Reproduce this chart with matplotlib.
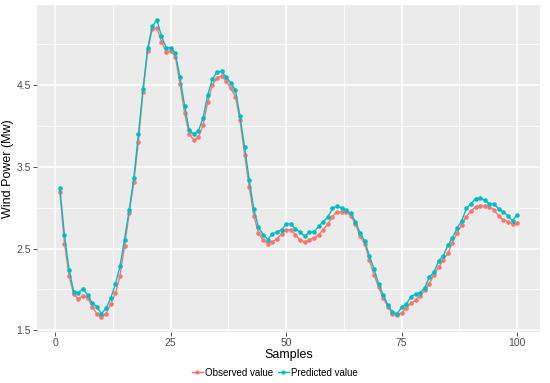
import numpy as np
import matplotlib
matplotlib.use("Agg")
import matplotlib.pyplot as plt
from matplotlib.lines import Line2D

plt.rcParams['font.family'] = ['Liberation Sans', 'DejaVu Sans']

# Data
samples = np.arange(1, 101)

observed = [3.19, 2.56, 2.16, 1.94, 1.88, 1.92, 1.90, 1.79, 1.70, 1.66,
            1.70, 1.82, 1.95, 2.16, 2.53, 2.93, 3.31, 3.81, 4.42, 4.92,
            5.19, 5.20, 5.03, 4.91, 4.92, 4.85, 4.52, 4.16, 3.90, 3.83,
            3.86, 4.01, 4.29, 4.50, 4.59, 4.61, 4.55, 4.46, 4.36, 4.07,
            3.65, 3.25, 2.90, 2.69, 2.60, 2.56, 2.58, 2.62, 2.68, 2.73,
            2.73, 2.67, 2.60, 2.58, 2.61, 2.63, 2.67, 2.73, 2.80, 2.89,
            2.95, 2.95, 2.95, 2.90, 2.80, 2.65, 2.56, 2.36, 2.18, 2.03,
            1.89, 1.79, 1.70, 1.68, 1.71, 1.77, 1.83, 1.87, 1.92, 1.99,
            2.07, 2.18, 2.27, 2.36, 2.44, 2.57, 2.69, 2.79, 2.89, 2.96,
            3.01, 3.02, 3.02, 3.01, 2.97, 2.90, 2.85, 2.83, 2.80, 2.81]

predicted = [3.24, 2.66, 2.24, 1.97, 1.96, 2.01, 1.93, 1.83, 1.79, 1.70,
             1.77, 1.89, 2.06, 2.28, 2.61, 2.97, 3.36, 3.90, 4.45, 4.95,
             5.22, 5.30, 5.10, 4.96, 4.96, 4.89, 4.60, 4.25, 3.95, 3.90,
             3.94, 4.10, 4.38, 4.57, 4.66, 4.67, 4.60, 4.53, 4.44, 4.12,
             3.74, 3.34, 2.98, 2.76, 2.67, 2.61, 2.68, 2.70, 2.73, 2.80,
             2.80, 2.74, 2.70, 2.65, 2.70, 2.70, 2.77, 2.83, 2.88, 2.99,
             3.02, 3.00, 2.97, 2.93, 2.83, 2.69, 2.59, 2.41, 2.25, 2.07,
             1.93, 1.81, 1.72, 1.70, 1.78, 1.82, 1.91, 1.94, 1.96, 2.02,
             2.15, 2.21, 2.35, 2.41, 2.54, 2.63, 2.75, 2.84, 2.99, 3.05,
             3.11, 3.12, 3.09, 3.05, 3.05, 2.98, 2.95, 2.90, 2.84, 2.91]

series_names = ['Observed value', 'Predicted value']
colors = ['#F8766D', '#00BFC4']

x_ticks = [0, 25, 50, 75, 100]
y_ticks = [1.5, 2.5, 3.5, 4.5]
y_minor = [2.0, 3.0, 4.0, 5.0]

fig = plt.figure(figsize=(5.5, 3.83), dpi=100)
ax = fig.add_axes([0.0673, 0.1332, 0.9145, 0.8538])
ax.set_facecolor('#EBEBEB')

for vals, name, c in zip([observed, predicted], series_names, colors):
    ax.plot(samples, vals, color=c, lw=1.0, marker='o', markersize=3.3,
            markeredgewidth=0, label=name, zorder=3)

# ggplot-like limits (5% expansion)
allv = np.concatenate([observed, predicted])
ylo, yhi = allv.min(), allv.max()
ax.set_ylim(ylo - 0.05 * (yhi - ylo), yhi + 0.05 * (yhi - ylo))
ax.set_xlim(1 - 0.05 * 99, 100 + 0.05 * 99)

ax.set_xticks(x_ticks)
ax.set_xticklabels([str(t) for t in x_ticks])
ax.set_yticks(y_ticks)
ax.set_yticklabels([str(t) for t in y_ticks])
ax.set_yticks(y_minor, minor=True)
ax.set_xticks([12.5, 37.5, 62.5, 87.5], minor=True)

ax.grid(True, which='major', color='white', lw=1.1)
ax.grid(True, which='minor', color='white', lw=0.55)
ax.set_axisbelow(True)
for s in ax.spines.values():
    s.set_visible(False)

ax.tick_params(which='major', length=2.7, width=0.6, color='#333333',
               labelsize=7.5, labelcolor='#4D4D4D', pad=1.5)
ax.tick_params(which='minor', length=0)

ax.set_xlabel('Samples', fontsize=9)
ax.set_ylabel('Wind Power (Mw)', fontsize=9)
ax.xaxis.set_label_coords(0.5, -0.052)
ax.yaxis.set_label_coords(-0.046, 0.5)

handles = [Line2D([], [], color=c, lw=1.0, marker='o', markersize=3,
                  markeredgewidth=0) for c in colors]
leg = fig.legend(handles, series_names, loc='lower center',
                 bbox_to_anchor=(0.5, 0.0), ncol=2,
                 frameon=False, fontsize=7, handlelength=1.1,
                 handletextpad=0.25, columnspacing=0.5, borderaxespad=0.15)

fig.savefig('out.png', dpi=100)
